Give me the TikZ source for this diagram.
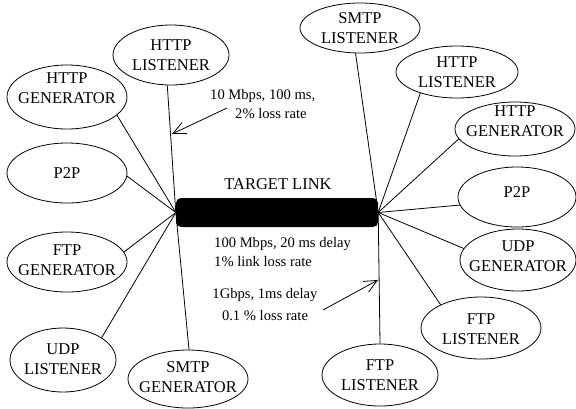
\documentclass[tikz,border=0pt]{standalone}
\usepackage{fontspec}
\setmainfont{Liberation Serif}
\usetikzlibrary{shapes.geometric,arrows.meta}
\begin{document}
\begin{tikzpicture}[x=1bp,y=-1bp,
  ell/.style={draw, ellipse, inner sep=0pt, line width=0.8bp},
  lbl/.style={align=center, inner sep=0pt, font=\fontsize{16.5bp}{19.5bp}\selectfont},
  note/.style={inner sep=0pt, font=\fontsize{14.6bp}{19bp}\selectfont},
  wire/.style={line width=0.8bp},
  pointer/.style={line width=0.8bp, -{Straight Barb[length=13bp,width=12bp]}}]
\useasboundingbox (0,0) rectangle (576,408);

% target link
\node[fill=black, rounded corners=5bp, minimum width=202bp, minimum height=29bp, inner sep=0pt] (link) at (277,212.5) {};
\node[lbl] (linkt) at (278,184) {TARGET LINK};

% left ellipses
\node[ell, minimum width=116bp, minimum height=60bp] (hlL) at (171,55) {};
\node[lbl] (hlLt) at (171,55) {HTTP\\LISTENER};
\node[ell, minimum width=120bp, minimum height=64bp] (hgL) at (67,97) {};
\node[lbl] (hgLt) at (67,88) {HTTP\\GENERATOR};
\node[ell, minimum width=120bp, minimum height=60bp] (p2pL) at (67,173) {};
\node[lbl] (p2pLt) at (67,173) {P2P};
\node[ell, minimum width=120bp, minimum height=60bp] (fgL) at (67,262) {};
\node[lbl] (fgLt) at (67,260) {FTP\\GENERATOR};
\node[ell, minimum width=106bp, minimum height=64bp] (ulL) at (63,360) {};
\node[lbl] (ulLt) at (63,359) {UDP\\LISTENER};
\node[ell, minimum width=120bp, minimum height=58bp] (sgL) at (188,379) {};
\node[lbl] (sgLt) at (188,377) {SMTP\\GENERATOR};

% right ellipses
\node[ell, minimum width=120bp, minimum height=50bp] (slR) at (360,28) {};
\node[lbl] (slRt) at (360,28) {SMTP\\LISTENER};
\node[ell, minimum width=122bp, minimum height=52bp] (hlR) at (457,72) {};
\node[lbl] (hlRt) at (457,72) {HTTP\\LISTENER};
\node[ell, minimum width=120bp, minimum height=54bp] (hgR) at (515,129) {};
\node[lbl] (hgRt) at (515,121) {HTTP\\GENERATOR};
\node[ell, minimum width=118bp, minimum height=60bp] (p2pR) at (517,197) {};
\node[lbl] (p2pRt) at (517,192) {P2P};
\node[ell, minimum width=116bp, minimum height=62bp] (ugR) at (518,260) {};
\node[lbl] (ugRt) at (518,256) {UDP\\GENERATOR};
\node[ell, minimum width=120bp, minimum height=62bp] (flR) at (481,328) {};
\node[lbl] (flRt) at (481,329) {FTP\\LISTENER};
\node[ell, minimum width=116bp, minimum height=62bp] (flB) at (380,375) {};
\node[lbl] (flBt) at (380,375) {FTP\\LISTENER};

% connectors, left hub
\draw[wire] (link.west) -- (hlL.-97);
\draw[wire] (link.west) -- (hgL.-20);
\draw[wire] (link.west) -- (p2pL.-3);
\draw[wire] (link.west) -- (fgL.10);
\draw[wire] (link.west) -- (ulL.30);
\draw[wire] (link.west) -- (sgL.88);

% connectors, right hub
\draw[wire] (link.east) -- (slR.-100);
\draw[wire] (link.east) -- (hlR.-150);
\draw[wire] (link.east) -- (hgR.-170);
\draw[wire] (link.east) -- (p2pR.-172);
\draw[wire] (link.east) -- (ugR.168);
\draw[wire] (link.east) -- (flR.150);
\draw[wire] (link.east) -- (flB.90);

% notes
\node[note, align=left, anchor=west] (n1) at (210,104) {10 Mbps, 100 ms,\\\hspace*{25bp}2\% loss rate};
\node[note, align=left, anchor=west] (n2) at (214,252.5) {100 Mbps, 20 ms delay\\1\% link loss rate};
\node[note, align=center] (n3) at (265,305) {1Gbps, 1ms delay\\[3bp]0.1 \% loss rate};

% pointers
\coordinate (a1s) at (227,108);
\coordinate (a1e) at (172,134);
\coordinate (a2s) at (323,310);
\coordinate (a2e) at (378,280);
\draw[pointer] (a1s) -- (a1e);
\draw[pointer] (a2s) -- (a2e);
\end{tikzpicture}
\end{document}
